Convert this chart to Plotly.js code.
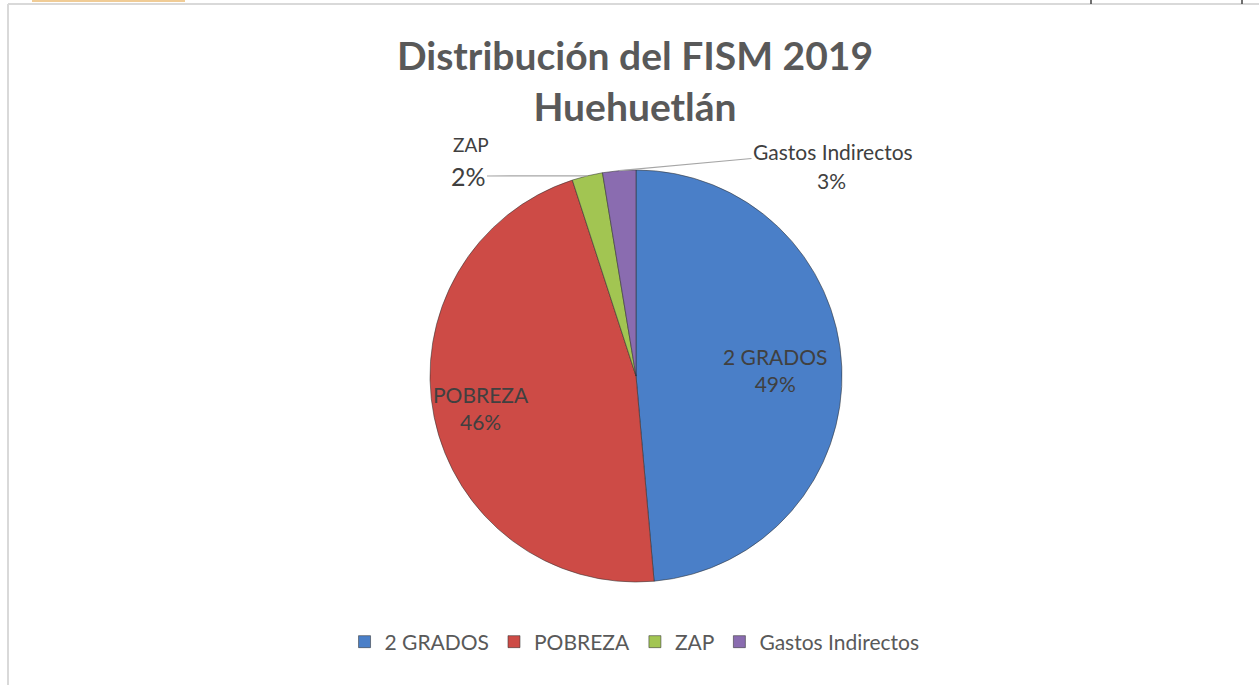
<!DOCTYPE html>
<html>
<head>
<meta charset="utf-8">
<script src="https://cdn.plot.ly/plotly-3.0.1.min.js"></script>
<style>html,body{margin:0;padding:0;background:#fff;}#chart{width:1259px;height:685px;}</style>
</head>
<body>
<div id="chart"></div>
<script>
// Data
const categories = ['2 GRADOS', 'POBREZA', 'ZAP', 'Gastos Indirectos'];
const values = [48.6, 46.4, 2.4, 2.6];
const colors = ['#4a7fc8', '#cd4b46', '#a2c552', '#8a6cb0'];
const chartTitle = 'Distribución del FISM 2019<br>Huehuetlán';

const W = 1259, H = 685;
// pie geometry (pixels)
const pcx = 636, pcy = 376, pr = 206;
// radial position (fraction of radius) of the inside labels of the two big slices
const insideLabelRadius = [0.675, 0.77];

const total = values.reduce((a, b) => a + b, 0);
const pct = values.map(v => Math.round(v / total * 100) + '%');

// mid-angle (clockwise from 12 o'clock) of each slice, derived from data
let cum = 0;
const midAngle = values.map(v => { const a0 = cum; cum += v / total * 360; return (a0 + cum) / 2; });
function polarPoint(i, frac) {
  const t = midAngle[i] * Math.PI / 180;
  const px = pcx + frac * pr * Math.sin(t), py = pcy - frac * pr * Math.cos(t);
  return { x: px / W, y: 1 - py / H, px: px, py: py };
}

const trace = {
  type: 'pie',
  labels: categories,
  values: values,
  sort: false,
  direction: 'clockwise',
  rotation: 0,
  marker: { colors: colors, line: { color: 'rgba(50,50,50,0.55)', width: 1 } },
  textinfo: 'none',
  textposition: 'none',
  hoverinfo: 'label+percent',
  domain: { x: [(pcx - pr) / W, (pcx + pr) / W], y: [1 - (pcy + pr) / H, 1 - (pcy - pr) / H] }
};

const zapPt = polarPoint(2, 1), gasPt = polarPoint(3, 1);
const lblFont = { family: 'Lato, sans-serif', size: 21, color: '#404040' };

const annotations = [];
// inside labels for the two large slices
[0, 1].forEach(i => {
  const p = polarPoint(i, insideLabelRadius[i]);
  annotations.push({ xref: 'paper', yref: 'paper', x: p.x, y: p.y, xanchor: 'center', yanchor: 'middle',
    text: categories[i] + '<br>' + pct[i], showarrow: false, font: lblFont });
});
annotations.push(
  { xref: 'paper', yref: 'paper', x: 471 / W, y: 1 - 145 / H, xanchor: 'center', yanchor: 'middle',
    text: categories[2], showarrow: false, font: { family: 'Lato, sans-serif', size: 19, color: '#404040' } },
  { xref: 'paper', yref: 'paper', x: zapPt.x, y: zapPt.y, text: pct[2], showarrow: true,
    ax: 468 - zapPt.px, ay: 176 - zapPt.py, arrowhead: 0, arrowwidth: 1.2, arrowcolor: '#a6a6a6',
    font: { family: 'Lato, sans-serif', size: 25, color: '#404040' } },
  { xref: 'paper', yref: 'paper', x: gasPt.x, y: gasPt.y, text: categories[3], showarrow: true,
    ax: 833 - gasPt.px, ay: 151 - gasPt.py, arrowhead: 0, arrowwidth: 1.2, arrowcolor: '#a6a6a6',
    font: lblFont },
  { xref: 'paper', yref: 'paper', x: 831 / W, y: 1 - 180 / H, xanchor: 'center', yanchor: 'middle',
    text: pct[3], showarrow: false, font: lblFont }
);

const layout = {
  width: W, height: H,
  margin: { l: 0, r: 0, t: 0, b: 0 },
  paper_bgcolor: '#ffffff',
  title: {
    text: chartTitle,
    font: { family: 'Lato, sans-serif', size: 39, color: '#595959', weight: 'bold' },
    x: 635 / W, xanchor: 'center', xref: 'paper',
    y: 1 - 70 / H, yanchor: 'top'
  },
  showlegend: true,
  legend: {
    orientation: 'h', x: 0.504, xanchor: 'center', y: 1 - 642 / H, yanchor: 'middle',
    font: { family: 'Lato, sans-serif', size: 21, color: '#595959' },
    itemwidth: 30, traceorder: 'normal'
  },
  annotations: annotations,
  shapes: [
    { type: 'line', xref: 'paper', yref: 'paper', x0: 8 / W, x1: 1, y0: 1 - 4 / H, y1: 1 - 4 / H, line: { color: '#d9d9d9', width: 2 } },
    { type: 'line', xref: 'paper', yref: 'paper', x0: 8 / W, x1: 8 / W, y0: 0, y1: 1 - 4 / H, line: { color: '#d9d9d9', width: 2 } },
    { type: 'line', xref: 'paper', yref: 'paper', x0: 1091 / W, x1: 1091 / W, y0: 1 - 4 / H, y1: 1, line: { color: '#404040', width: 1.5 } },
    { type: 'line', xref: 'paper', yref: 'paper', x0: 1242 / W, x1: 1242 / W, y0: 1 - 4 / H, y1: 1, line: { color: '#404040', width: 1.5 } },
    { type: 'rect', xref: 'paper', yref: 'paper', x0: 32 / W, x1: 185 / W, y0: 1 - 2 / H, y1: 1, line: { width: 0 }, fillcolor: 'rgba(230,170,80,0.6)' }
  ]
};

Plotly.newPlot('chart', [trace], layout, { displayModeBar: false, staticPlot: true });
</script>
</body>
</html>
